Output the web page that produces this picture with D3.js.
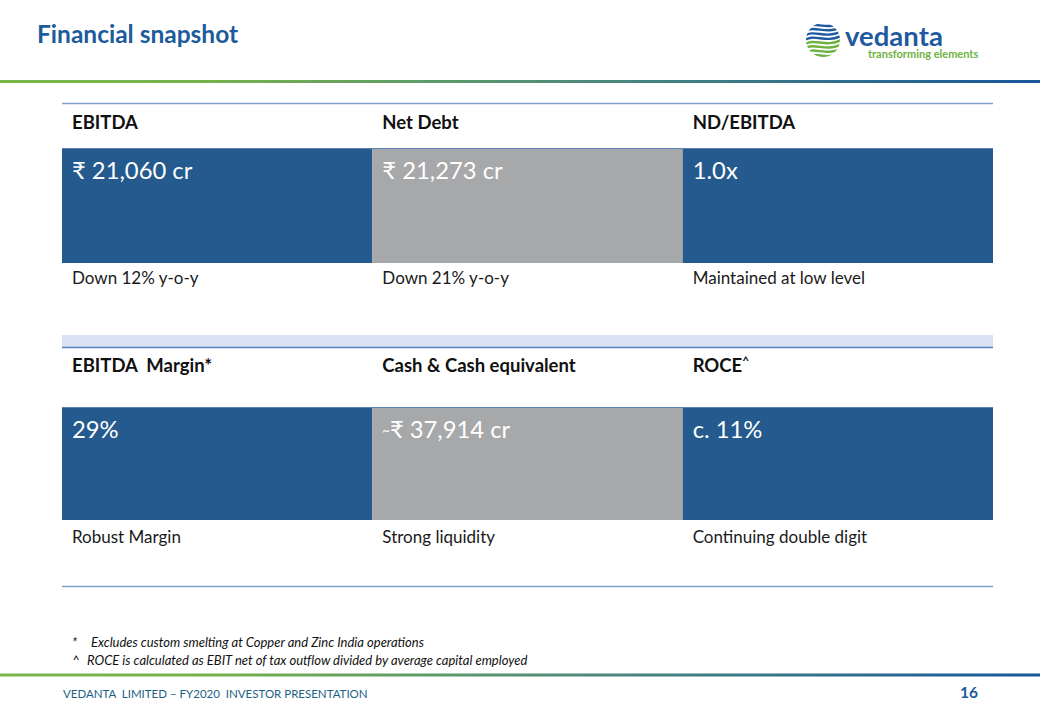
<!DOCTYPE html>
<html>
<head>
<meta charset="utf-8">
<script src="https://cdn.jsdelivr.net/npm/d3@7"></script>
<style>
  html, body { margin: 0; padding: 0; background: #fff; }
  svg { display: block; }
  text { font-family: Lato, "Open Sans", "DejaVu Sans", sans-serif; }
</style>
</head>
<body>
<svg id="chart" width="1040" height="720"></svg>
<script>
// ---- data ----
const title = "Financial snapshot";
const columns = ["c1", "c2", "c3"];
const headers1 = ["EBITDA", "Net Debt", "ND/EBITDA"];
const values1 = ["₹ 21,060 cr", "₹ 21,273 cr", "1.0x"];
const notes1 = ["Down 12% y-o-y", "Down 21% y-o-y", "Maintained at low level"];
const headers2 = ["EBITDA  Margin*", "Cash & Cash equivalent", "ROCE"];
const values2 = ["29%", "₹ 37,914 cr", "c. 11%"];
const notes2 = ["Robust Margin", "Strong liquidity", "Continuing double digit"];
const cellKinds = ["blue", "gray", "blue"];
const footnotes = [
  ["*", "Excludes custom smelting at Copper and Zinc India operations"],
  ["^", "ROCE is calculated as EBIT net of tax outflow divided by average capital employed"]
];
const footerText = "VEDANTA  LIMITED – FY2020  INVESTOR PRESENTATION";
const pageNumber = "16";

// ---- drawing ----
const svg = d3.select("#chart");
const defs = svg.append("defs");
const grad = defs.append("linearGradient").attr("id", "gline").attr("x1", "0%").attr("x2", "100%");
grad.append("stop").attr("offset", "0%").attr("stop-color", "#7ab648");
grad.append("stop").attr("offset", "20%").attr("stop-color", "#76b24c");
grad.append("stop").attr("offset", "55%").attr("stop-color", "#4e8b7a");
grad.append("stop").attr("offset", "100%").attr("stop-color", "#18579b");

const fillColor = { blue: "#245a8d", gray: "#a7a8aa" };

// title
svg.append("text").attr("x", 37).attr("y", 43)
  .attr("font-size", 24.5).attr("font-weight", 700).attr("fill", "#1c5c9c")
  .text(title);

// top gradient line
svg.append("rect").attr("x", 0).attr("y", 80).attr("width", 1040).attr("height", 3).attr("fill", "url(#gline)");

// logo
const logo = svg.append("g");
const cx = 823, cy = 40, r = 17;
defs.append("clipPath").attr("id", "logoClip").append("circle").attr("cx", cx).attr("cy", cy).attr("r", r);
const lg = logo.append("g").attr("clip-path", "url(#logoClip)");
const stripeIdx = d3.range(8);
stripeIdx.forEach(i => {
  const y0 = cy - r + 2 + i * 4.3;
  const col = i < 4 ? "#1f5aa0" : "#6db33f";
  const amp = 2.5;
  const p = d3.path();
  p.moveTo(cx - r - 2, y0 + amp);
  p.bezierCurveTo(cx - 8, y0 - amp * 2, cx + 2, y0 + amp * 2.5, cx + r + 2, y0 - amp);
  lg.append("path").attr("d", p.toString()).attr("fill", "none").attr("stroke", col).attr("stroke-width", 2.4);
});
logo.append("text").attr("x", 845).attr("y", 46).attr("font-size", 27.5).attr("font-weight", 700)
  .attr("fill", "#1f5aa0").text("vedanta");
logo.append("text").attr("x", 868).attr("y", 57.5).attr("font-size", 11).attr("font-weight", 700)
  .attr("fill", "#6db33f").text("transforming elements");

// table
const x = d3.scaleBand().domain(columns).range([62, 993]).paddingInner(0).paddingOuter(0);

// lines & band
svg.append("line").attr("x1", 62).attr("x2", 993).attr("y1", 103.5).attr("y2", 103.5)
  .attr("stroke", "#7f9fcd").attr("stroke-width", 1.5);
svg.append("rect").attr("x", 62).attr("y", 335).attr("width", 931).attr("height", 12).attr("fill", "#d9e2f2");
svg.append("line").attr("x1", 62).attr("x2", 993).attr("y1", 347.5).attr("y2", 347.5)
  .attr("stroke", "#5682be").attr("stroke-width", 1.5);
svg.append("line").attr("x1", 62).attr("x2", 993).attr("y1", 586.5).attr("y2", 586.5)
  .attr("stroke", "#7f9fcd").attr("stroke-width", 1.5);

function drawBlock(headers, values, notes, hdrY, valTop, valBot, valY, noteY, isSecond) {
  const g = svg.append("g");
  g.selectAll("rect.cell").data(columns).join("rect")
    .attr("class", "cell")
    .attr("x", d => x(d)).attr("y", valTop)
    .attr("width", x.bandwidth()).attr("height", valBot - valTop)
    .attr("fill", (d, i) => fillColor[cellKinds[i]]);
  g.append("line").attr("x1", 62).attr("x2", 993).attr("y1", valTop + 0.5).attr("y2", valTop + 0.5)
    .attr("stroke", "#5a7fb3").attr("stroke-width", 1);

  const ht = g.selectAll("text.hdr").data(columns).join("text")
    .attr("class", "hdr")
    .attr("x", d => x(d) + 10).attr("y", hdrY)
    .attr("font-size", 18.5).attr("font-weight", 700).attr("fill", "#111")
    .attr("xml:space", "preserve")
    .text((d, i) => headers[i]);
  if (isSecond) {
    ht.filter((d, i) => i === 2).append("tspan").attr("font-size", 12).attr("dy", -7).text("^");
  }

  const vt = g.selectAll("text.val").data(columns).join("text")
    .attr("class", "val")
    .attr("x", d => x(d) + 10).attr("y", valY)
    .attr("font-size", 23.8).attr("fill", "#fff");
  vt.each(function (d, i) {
    const t = d3.select(this);
    if (isSecond && i === 1) {
      t.append("tspan").attr("font-size", 13).attr("dy", -3).text("~");
      t.append("tspan").attr("dy", 3).text(values[i]);
    } else {
      t.text(values[i]);
    }
  });

  g.selectAll("text.note").data(columns).join("text")
    .attr("class", "note")
    .attr("x", d => x(d) + 10).attr("y", noteY)
    .attr("font-size", 17).attr("fill", "#1a1a1a")
    .text((d, i) => notes[i]);
}

drawBlock(headers1, values1, notes1, 129, 148, 263, 179, 284, false);
drawBlock(headers2, values2, notes2, 372, 407, 520, 438, 543, true);

// footnotes
const fn = svg.append("g");
footnotes.forEach((f, i) => {
  const y = 647 + i * 18;
  fn.append("text").attr("x", 72).attr("y", y).attr("font-size", 13).attr("font-style", "italic")
    .attr("fill", "#111").text(f[0]);
  fn.append("text").attr("x", i === 0 ? 91 : 87).attr("y", y).attr("font-size", 13).attr("font-style", "italic")
    .attr("fill", "#111").text(f[1]);
});

// bottom gradient line
svg.append("rect").attr("x", 0).attr("y", 673.5).attr("width", 1040).attr("height", 3).attr("fill", "url(#gline)");

// footer
svg.append("text").attr("x", 63).attr("y", 698).attr("font-size", 11.5).attr("fill", "#1d5f85")
  .attr("xml:space", "preserve").text(footerText);
svg.append("text").attr("x", 960).attr("y", 698).attr("font-size", 15.5).attr("font-weight", 700)
  .attr("fill", "#1c5c9c").text(pageNumber);
</script>
</body>
</html>
